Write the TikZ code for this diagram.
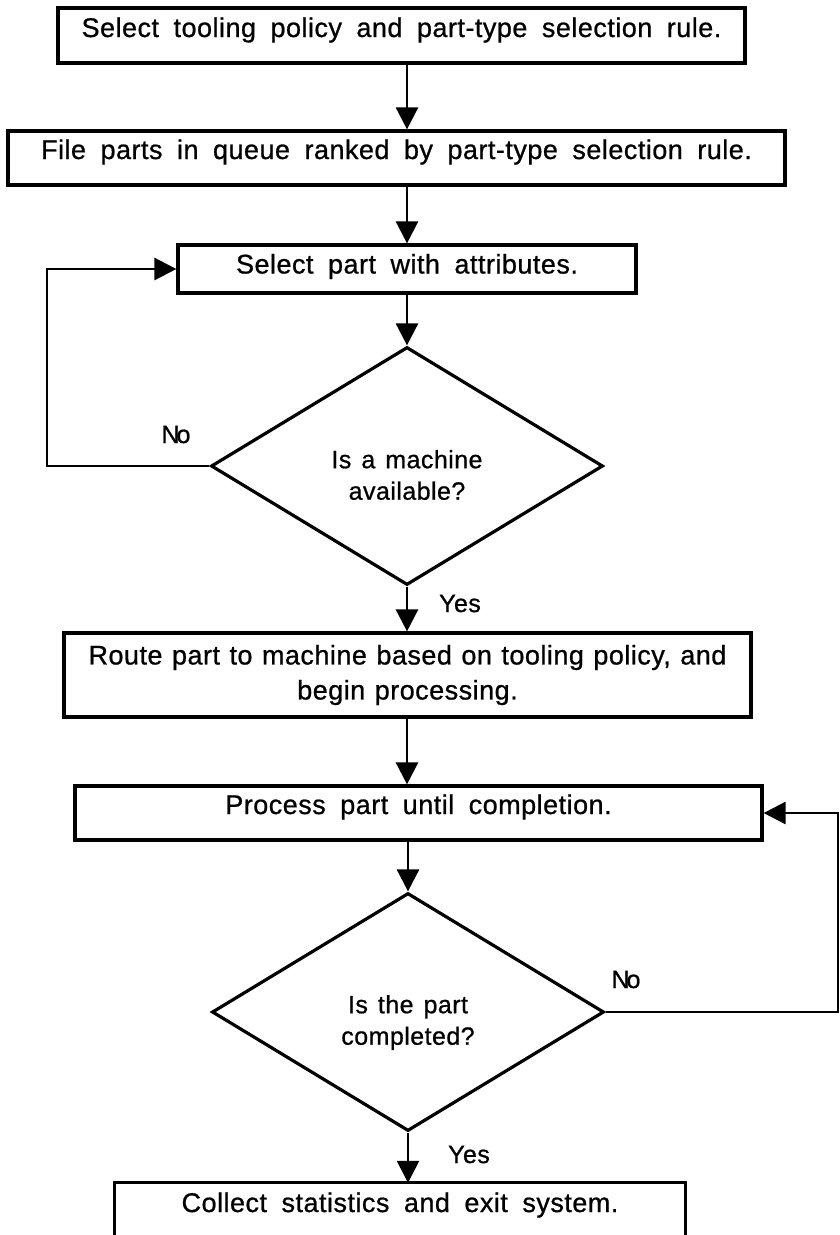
\documentclass[tikz,border=0pt]{standalone}
\usepackage{fontspec}
\setmainfont{Liberation Sans}[LetterSpace=1.8,FakeBold=0.8]
\usetikzlibrary{shapes.geometric,arrows.meta}
\newcommand\wordgap[1]{\spaceskip=#1\relax}
\newcommand\boxtype{\fontsize{27}{35}\selectfont\wordgap{14.5pt}}
\newcommand\routetype{\fontsize{27}{35}\selectfont\wordgap{9.5pt}}
\newcommand\asktype{\fontsize{25}{31.5}\selectfont\wordgap{10pt}}
\begin{document}
\begin{tikzpicture}[x=1pt,y=-1pt,
  stepbox/.style={draw, rectangle, line width=3.2pt, inner sep=0pt, font=\boxtype},
  decision/.style={draw, diamond, line width=3.2pt, inner sep=0pt,
    minimum width=392pt, minimum height=238pt},
  qtext/.style={align=center, inner sep=0pt, font=\asktype},
  lbl/.style={anchor=base, inner sep=0pt, font=\fontsize{25}{30}\selectfont},
  flow/.style={line width=2.6pt, -{Triangle[length=22pt,width=22pt]}}]

\useasboundingbox (0,0) rectangle (840,1235);

% process boxes
\node[stepbox, minimum width=687pt, minimum height=55pt,
      text height=21pt, text depth=18pt] (b1) at (401.5,35.5)
  {Select tooling policy and part-type selection rule.};
\node[stepbox, minimum width=777pt, minimum height=54pt,
      text height=21pt, text depth=19pt] (b2) at (396.5,158)
  {File parts in queue ranked by part-type selection rule.};
\node[stepbox, minimum width=458pt, minimum height=48pt,
      text height=21pt, text depth=12pt] (b3) at (407,269)
  {Select part with attributes.};
\node[decision] (d1) at (407,466) {};
\node[qtext] (q1) at (407,475) {Is a machine\\available?};
\node[stepbox, minimum width=687pt, minimum height=84pt, align=center,
      font=\routetype] (b4) at (407.5,675)
  {Route part to machine based on tooling policy, and\\begin processing.};
\node[stepbox, minimum width=687pt, minimum height=54pt,
      text height=21pt, text depth=19pt] (b5) at (418.5,813)
  {Process part until completion.};
\node[decision] (d2) at (408,1012) {};
\node[qtext] (q2) at (408,1022.5) {Is the part\\completed?};
% last box runs off the lower edge, so only three sides are drawn
\node[rectangle, inner sep=0pt, font=\boxtype, minimum width=570pt, minimum height=52pt,
      text height=21pt, text depth=15pt] (b6) at (400,1209)
  {Collect statistics and exit system.};
\draw[line width=3.2pt] (b6.south west) |- (b6.north) -| (b6.south east);

% turning points of the return paths
\coordinate (loopW) at (47,466);
\coordinate (loopE) at (838,1012);

% connectors
\draw[flow] (b1.south -| d1.north) -- (b2.north -| d1.north);
\draw[flow] (b2.south -| d1.north) -- (b3.north -| d1.north);
\draw[flow] (b3.south -| d1.north) -- (d1.north);
\draw[flow] (d1.west) -- (loopW) |- (b3.west);
\draw[flow] (d1.south) -- (b4.north -| d1.south);
\draw[flow] (b4.south -| d1.south) -- (b5.north -| d1.south);
\draw[flow] (b5.south -| d2.north) -- (d2.north);
\draw[flow] (d2.east) -- (loopE) |- (b5.east);
\draw[flow] (d2.south) -- (b6.north -| d2.south);

% branch labels
\node[lbl] (no1) at (176,443) {N\kern-3pt o};
\node[lbl] (yes1) at (460,612) {Yes};
\node[lbl] (no2) at (626,988) {N\kern-3pt o};
\node[lbl] (yes2) at (469,1163) {Yes};
\end{tikzpicture}
\end{document}
